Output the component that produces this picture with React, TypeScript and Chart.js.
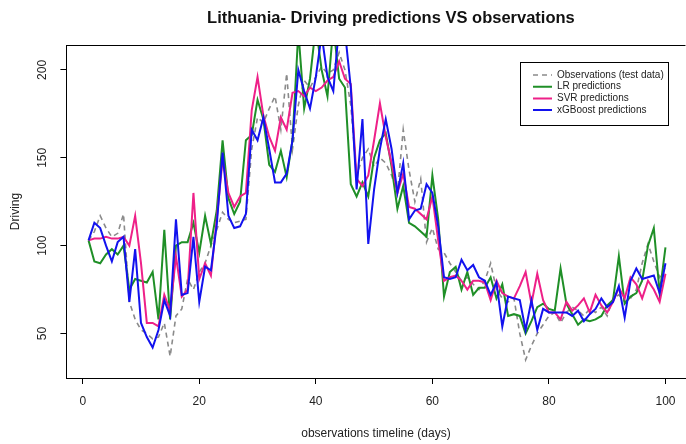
import React, { useEffect, useRef } from "react";
import { Chart, registerables } from "chart.js";

Chart.register(...registerables);

const TITLE = "Lithuania- Driving predictions VS observations";
const X_TITLE = "observations timeline (days)";
const Y_TITLE = "Driving";

const X_TICKS = [0, 20, 40, 60, 80, 100];
const Y_TICKS = [50, 100, 150, 200];

const OBSERVATIONS = [
  103, 108, 117, 110, 105, 107, 118, 68, 58, 52,
  50, 47, 48, 56, 37, 60, 64, 81, 75, 85,
  90, 100, 109, 119, 115, 113, 114, 115, 155, 173,
  170, 178, 185, 166, 198, 155, 180, 194, 190, 196,
  202, 198, 200, 210, 200, 180, 140, 150, 155, 145,
  150, 147, 140, 130, 166, 143, 125, 138, 102, 110,
  98, 96, 90, 85, 80, 82, 78, 75, 80, 90,
  75, 70, 68, 70, 50, 35, 43, 50, 55, 60,
  62, 56, 62, 65, 63, 60, 64, 62, 65, 60,
  70, 72, 68, 70, 75, 90, 101, 91, 82, 88,
];

const LR_PRED = [
  103, 91, 90, 95, 98, 95, 100, 75, 81, 80,
  79, 85, 58, 109, 58, 100, 102, 102, 113, 96,
  117, 101, 120, 160, 127, 118, 125, 160, 163, 183,
  172, 146, 142, 154, 139, 160, 222, 178, 195, 225,
  200, 185, 225, 195, 190, 135, 128, 136, 128, 150,
  160, 164, 145, 121, 134, 113, 111, 108, 105, 140,
  115, 71, 85, 88, 75, 85, 72, 76, 76, 82,
  70, 78, 60, 61, 60, 50, 57, 65, 67, 64,
  63, 87, 67, 61, 55, 58, 57, 58, 60, 66,
  69, 94, 67, 71, 73, 80, 100, 110, 73, 99,
];

const SVR_PRED = [
  103, 104, 104, 105, 104, 104, 105, 100, 117, 90,
  56, 56, 54, 72, 63, 94, 71, 75, 130, 81,
  90, 83, 115, 149, 130, 122, 128, 130, 177, 196,
  174, 162, 154, 173, 166, 187, 188, 185, 190, 188,
  190, 194, 196, 205, 195, 192, 138, 134, 140, 160,
  181, 162, 147, 130, 141, 122, 121, 118, 115, 128,
  103, 80, 82, 83, 80, 75, 80, 80, 79, 69,
  80, 73, 71, 70, 77, 85, 67, 84, 69, 62,
  62, 58, 68, 63, 66, 70, 62, 72, 66, 62,
  68, 76, 70, 82, 78, 70, 80, 75, 68, 84,
];

const XGB_PRED = [
  103, 113, 110, 100, 91, 102, 105, 68, 98, 56,
  48, 42, 52, 69, 60, 115, 72, 73, 105, 68,
  88, 86, 112, 153, 117, 110, 111, 118, 166, 160,
  173, 155, 136, 136, 141, 160, 200, 188, 178, 196,
  220, 196, 188, 225, 222, 190, 132, 172, 101, 132,
  155, 172, 155, 130, 147, 115, 120, 121, 135, 130,
  111, 82, 81, 82, 92, 86, 89, 82, 80, 72,
  79, 54, 71, 70, 69, 52, 69, 52, 64, 62,
  62, 62, 62, 60, 63, 57, 61, 64, 70, 65,
  68, 77, 59, 80, 87, 81, 82, 83, 73, 90,
];

const SERIES_LABELS = [
  "Observations (test data)",
  "LR predictions",
  "SVR predictions",
  "xGBoost predictions",
];
const SERIES_COLORS = ["#8a8a8a", "#1f8f27", "#ee2088", "#1212ee"];
const SERIES_WIDTHS = [1.6, 2, 2, 2];
const SERIES_DASHES = [[5, 4], [], [], []];

const FONT = "'Liberation Sans', Arial, Helvetica, sans-serif";

const toPoints = (vals: number[]) => vals.map((v, i) => ({ x: i + 1, y: v }));

const framePlugin = {
  id: "frame",
  afterLayout(chart: any) {
    const lg = chart.legend;
    if (lg) {
      const w = lg.width;
      const h = lg.height;
      lg.left = 531.3;
      lg.top = 68.3;
      lg.right = lg.left + w;
      lg.bottom = lg.top + h;
    }
    const tb = chart.titleBlock;
    if (tb) {
      tb.left += 15;
      tb.right += 15;
    }
  },
  afterDraw(chart: any) {
    const { ctx, chartArea: a } = chart;
    ctx.save();
    ctx.strokeStyle = "#000";
    ctx.lineWidth = 1;
    ctx.beginPath();
    ctx.moveTo(Math.round(a.left) + 0.5, a.bottom);
    ctx.lineTo(Math.round(a.left) + 0.5, Math.round(a.top) + 0.5);
    ctx.lineTo(a.right, Math.round(a.top) + 0.5);
    ctx.stroke();
    ctx.strokeRect(520.5, 62.5, 148, 63);
    ctx.restore();
  },
};

export default function App() {
  const ref = useRef<HTMLCanvasElement | null>(null);

  useEffect(() => {
    if (!ref.current) return;
    Chart.defaults.font.family = FONT;
    const series = [OBSERVATIONS, LR_PRED, SVR_PRED, XGB_PRED];
    const chart = new Chart(ref.current, {
      type: "line",
      data: {
        datasets: series.map((vals, i) => ({
          label: SERIES_LABELS[i],
          data: toPoints(vals),
          borderColor: SERIES_COLORS[i],
          backgroundColor: SERIES_COLORS[i],
          borderWidth: SERIES_WIDTHS[i],
          borderDash: SERIES_DASHES[i],
          pointRadius: 0,
          tension: 0,
          fill: false,
          order: 4 - i,
        })),
      },
      options: {
        responsive: false,
        animation: false,
        layout: { padding: 0 },
        plugins: {
          tooltip: { enabled: false },
          title: {
            display: true,
            text: TITLE,
            fullSize: false,
            color: "#111",
            font: { family: FONT, size: 16.5, weight: "bold" },
            padding: { top: 8.1, bottom: 17.1 },
          },
          legend: {
            position: "chartArea" as any,
            align: "start",
            labels: {
              usePointStyle: true,
              pointStyle: "line",
              pointStyleWidth: 19,
              padding: 1.7,
              color: "#222",
              font: { family: FONT, size: 10 },
              sort: (a: any, b: any) => a.datasetIndex - b.datasetIndex,
              generateLabels: (c: any) =>
                Chart.defaults.plugins.legend.labels
                  .generateLabels(c)
                  .map((it: any) => ({
                    ...it,
                    strokeStyle: SERIES_COLORS[it.datasetIndex],
                    lineWidth: SERIES_WIDTHS[it.datasetIndex],
                    lineDash: SERIES_DASHES[it.datasetIndex],
                  })),
            },
          },
        },
        scales: {
          x: {
            type: "linear",
            min: -2.8,
            max: 103.43,
            afterBuildTicks: (s: any) => {
              s.ticks = X_TICKS.map((v) => ({ value: v }));
            },
            afterFit: (s: any) => {
              s.height = 66;
            },
            grid: {
              drawOnChartArea: false,
              drawTicks: true,
              tickLength: 6,
              color: "#000",
              lineWidth: 1,
            },
            border: { display: true, color: "#000", width: 1 },
            ticks: {
              autoSkip: false,
              maxRotation: 0,
              padding: 10.5,
              color: "#222",
              font: { family: FONT, size: 12 },
            },
            title: {
              display: true,
              text: X_TITLE,
              color: "#222",
              font: { family: FONT, size: 12 },
              padding: { top: 0, bottom: 3 },
            },
          },
          y: {
            type: "linear",
            min: 24.67,
            max: 214.2,
            afterBuildTicks: (s: any) => {
              s.ticks = Y_TICKS.map((v) => ({ value: v }));
            },
            afterFit: (s: any) => {
              s.width = 66.4;
            },
            grid: {
              drawOnChartArea: false,
              drawTicks: true,
              tickLength: 6,
              color: "#000",
              lineWidth: 1,
            },
            border: { display: true, color: "#000", width: 1 },
            ticks: {
              autoSkip: false,
              minRotation: 90,
              maxRotation: 90,
              crossAlign: "center",
              padding: 7.4,
              color: "#222",
              font: { family: FONT, size: 12 },
            },
            title: {
              display: true,
              text: Y_TITLE,
              color: "#222",
              font: { family: FONT, size: 12 },
              padding: { top: 8, bottom: 0 },
            },
          },
        },
      },
      plugins: [framePlugin],
    } as any);
    return () => chart.destroy();
  }, []);

  return (
    <div
      style={{
        position: "fixed",
        left: 0,
        top: 0,
        width: 686,
        height: 444,
        background: "#fff",
      }}
    >
      <canvas ref={ref} width={686} height={444} style={{ width: 686, height: 444 }} />
    </div>
  );
}
